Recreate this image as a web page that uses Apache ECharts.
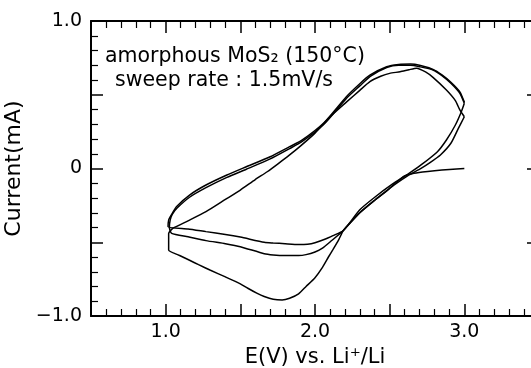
<!DOCTYPE html>
<html><head><meta charset="utf-8">
<script src="https://cdn.jsdelivr.net/npm/echarts@6/dist/echarts.min.js"></script>
<style>html,body{margin:0;padding:0;background:#fff}#c{width:531px;height:368px}</style>
</head><body><div id="c"></div>
<script>
// Axis tick labels
const xLabelValues = [1, 2, 3];
const xLabelTexts = ['1.0', '2.0', '3.0'];
const yLabelValues = [-1, 0, 1];
const yLabelTexts = ['\u22121.0', '0', '1.0'];

// Cycle 1: first cathodic sweep from 3.0 V, then anodic sweep
const cycle1E = [3.00, 2.90, 2.80, 2.72, 2.65, 2.60, 2.55, 2.48, 2.40, 2.30, 2.22, 2.19, 2.16, 2.12, 2.09, 2.05, 2.00, 1.94, 1.89, 1.83, 1.78, 1.72, 1.66, 1.61, 1.55, 1.50, 1.40, 1.30, 1.22, 1.16, 1.09, 1.02, 1.02, 1.05, 1.15, 1.27, 1.40, 1.50, 1.60, 1.68, 1.75, 1.83, 1.90, 2.00, 2.10, 2.21, 2.30, 2.37, 2.44, 2.50, 2.57, 2.63, 2.68, 2.74, 2.79, 2.88, 2.94, 2.97, 3.00];
const cycle1I = [0.000, -0.006, -0.015, -0.024, -0.035, -0.05, -0.09, -0.15, -0.215, -0.30, -0.385, -0.42, -0.48, -0.55, -0.60, -0.67, -0.74, -0.80, -0.85, -0.88, -0.892, -0.887, -0.868, -0.845, -0.812, -0.782, -0.735, -0.69, -0.652, -0.622, -0.588, -0.553, -0.44, -0.405, -0.355, -0.293, -0.21, -0.146, -0.075, -0.022, 0.03, 0.092, 0.15, 0.24, 0.35, 0.45, 0.53, 0.59, 0.625, 0.645, 0.656, 0.67, 0.68, 0.655, 0.618, 0.532, 0.46, 0.397, 0.351];

// Cycle 2
const cycle2E = [3.00, 2.96, 2.91, 2.84, 2.77, 2.71, 2.62, 2.54, 2.47, 2.40, 2.30, 2.19, 2.11, 2.05, 2.00, 1.94, 1.89, 1.80, 1.72, 1.66, 1.50, 1.40, 1.27, 1.15, 1.04, 1.025, 1.03, 1.045, 1.075, 1.16, 1.27, 1.41, 1.54, 1.70, 1.83, 1.91, 2.06, 2.21, 2.30, 2.37, 2.48, 2.56, 2.64, 2.70, 2.79, 2.85, 2.91, 2.97, 3.00];
const cycle2I = [0.351, 0.272, 0.171, 0.092, 0.04, 0.001, -0.05, -0.105, -0.16, -0.215, -0.30, -0.42, -0.49, -0.54, -0.566, -0.584, -0.59, -0.59, -0.586, -0.578, -0.53, -0.51, -0.489, -0.463, -0.44, -0.40, -0.35, -0.31, -0.27, -0.195, -0.13, -0.06, -0.005, 0.065, 0.135, 0.18, 0.30, 0.475, 0.56, 0.625, 0.685, 0.70, 0.70, 0.69, 0.668, 0.63, 0.578, 0.51, 0.442];

// Cycle 3
const cycle3E = [3.00, 2.98, 2.94, 2.88, 2.82, 2.71, 2.62, 2.52, 2.40, 2.30, 2.19, 2.12, 2.07, 2.00, 1.95, 1.89, 1.80, 1.72, 1.66, 1.50, 1.40, 1.27, 1.15, 1.016, 1.02, 1.038, 1.072, 1.16, 1.27, 1.41, 1.54, 1.70, 1.83, 1.91, 2.06, 2.21, 2.30, 2.37, 2.48, 2.56, 2.64, 2.70, 2.79, 2.85, 2.91, 2.97, 3.00];
const cycle3I = [0.442, 0.385, 0.295, 0.193, 0.114, 0.024, -0.04, -0.105, -0.195, -0.28, -0.42, -0.455, -0.478, -0.503, -0.513, -0.515, -0.51, -0.505, -0.50, -0.465, -0.447, -0.428, -0.41, -0.395, -0.35, -0.315, -0.259, -0.18, -0.112, -0.044, 0.012, 0.08, 0.148, 0.19, 0.31, 0.487, 0.575, 0.634, 0.69, 0.705, 0.708, 0.70, 0.672, 0.635, 0.585, 0.52, 0.45];

const cycles = [[cycle1E, cycle1I], [cycle2E, cycle2I], [cycle3E, cycle3I]];

const FONT = 'DejaVu Sans';
function pickLabel(vals, texts) {
  return v => { const i = vals.findIndex(t => Math.abs(t - v) < 1e-6); return i >= 0 ? texts[i] : ''; };
}
const axisLine = { show: true, onZero: false, lineStyle: { color: '#000', width: 2 } };
const axisTick = { show: true, inside: true, length: 12, lineStyle: { color: '#000', width: 1.5 } };
const minorTick = { show: true, splitNumber: 5, length: 7, lineStyle: { color: '#000', width: 1.2 } };

const chart = echarts.init(document.getElementById('c'), null, { renderer: 'canvas' });
chart.setOption({
  animation: false,
  backgroundColor: '#fff',
  grid: { left: 91, top: 21, width: 448, height: 295, containLabel: false, outerBoundsMode: 'none' },
  xAxis: [
    { type: 'value', position: 'bottom', min: 0.5, max: 3.5, interval: 0.5,
      axisLine, axisTick, minorTick, splitLine: { show: false }, minorSplitLine: { show: false },
      axisLabel: { show: true, margin: 7, color: '#000', fontFamily: FONT, fontSize: 19,
        showMinLabel: true, showMaxLabel: true, formatter: pickLabel(xLabelValues, xLabelTexts) },
      name: 'E(V) vs. Li\u207A/Li', nameLocation: 'middle', nameGap: 31,
      nameTextStyle: { color: '#000', fontFamily: FONT, fontSize: 21 } },
    { type: 'value', position: 'top', min: 0.5, max: 3.5, interval: 0.5,
      axisLine, axisTick, minorTick, splitLine: { show: false }, axisLabel: { show: false } }
  ],
  yAxis: [
    { type: 'value', position: 'left', min: -1, max: 1, interval: 0.5,
      axisLine, axisTick, minorTick, splitLine: { show: false }, minorSplitLine: { show: false },
      axisLabel: { show: true, margin: 9, color: '#000', fontFamily: FONT, fontSize: 19,
        showMinLabel: true, showMaxLabel: true, formatter: pickLabel(yLabelValues, yLabelTexts) },
      name: 'Current(mA)', nameLocation: 'middle', nameGap: 55,
      nameTextStyle: { color: '#000', fontFamily: FONT, fontSize: 22 } },
    { type: 'value', position: 'right', min: -1, max: 1, interval: 0.5,
      axisLine, axisTick, minorTick, splitLine: { show: false }, axisLabel: { show: false } }
  ],
  graphic: [
    { type: 'text', x: 105, y: 57, style: { text: 'amorphous MoS\u2082 (150\u00B0C)', fill: '#000',
      font: '20.5px "DejaVu Sans"', verticalAlign: 'middle' } },
    { type: 'text', x: 115, y: 81, style: { text: 'sweep rate : 1.5mV/s', fill: '#000',
      font: '20.5px "DejaVu Sans"', verticalAlign: 'middle' } }
  ],
  series: cycles.map(([E, I]) => ({
    type: 'line', xAxisIndex: 0, yAxisIndex: 0, showSymbol: false, smooth: 0.2,
    lineStyle: { color: '#000', width: 1.5 },
    data: E.map((e, k) => [e, I[k]])
  }))
});
</script></body></html>
